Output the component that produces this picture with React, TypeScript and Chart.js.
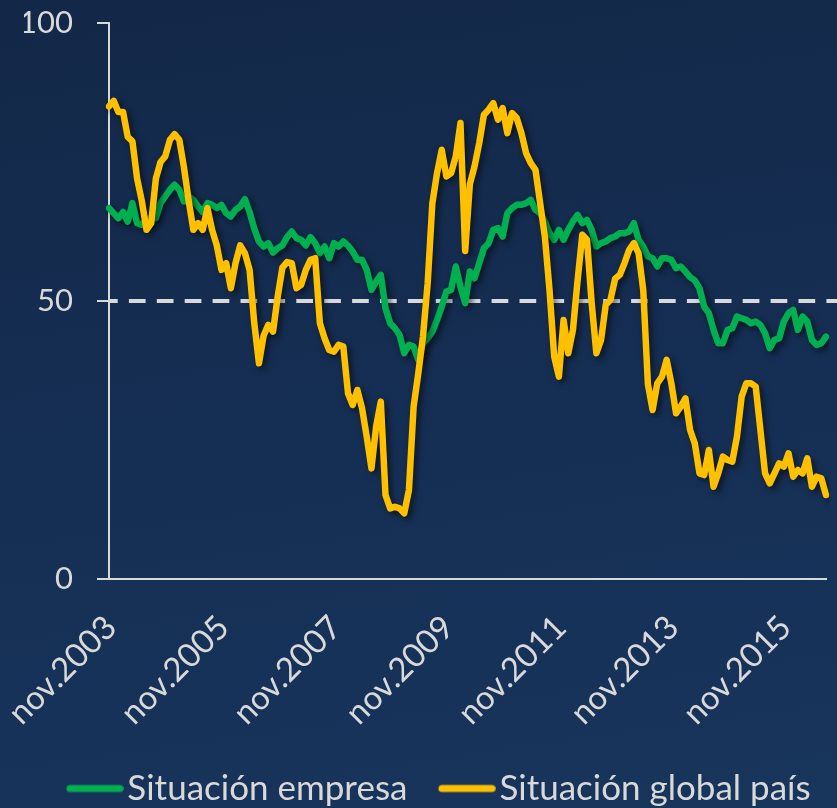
import React, { useEffect, useRef } from 'react';
import { Chart, registerables } from 'chart.js';

Chart.register(...registerables);

// ---------- data ----------
const CATEGORIES: string[] = [
  'nov.2003', 'dic.2003',
  'ene.2004', 'feb.2004', 'mar.2004', 'abr.2004', 'may.2004', 'jun.2004', 'jul.2004', 'ago.2004', 'sep.2004', 'oct.2004', 'nov.2004', 'dic.2004',
  'ene.2005', 'feb.2005', 'mar.2005', 'abr.2005', 'may.2005', 'jun.2005', 'jul.2005', 'ago.2005', 'sep.2005', 'oct.2005', 'nov.2005', 'dic.2005',
  'ene.2006', 'feb.2006', 'mar.2006', 'abr.2006', 'may.2006', 'jun.2006', 'jul.2006', 'ago.2006', 'sep.2006', 'oct.2006', 'nov.2006', 'dic.2006',
  'ene.2007', 'feb.2007', 'mar.2007', 'abr.2007', 'may.2007', 'jun.2007', 'jul.2007', 'ago.2007', 'sep.2007', 'oct.2007', 'nov.2007', 'dic.2007',
  'ene.2008', 'feb.2008', 'mar.2008', 'abr.2008', 'may.2008', 'jun.2008', 'jul.2008', 'ago.2008', 'sep.2008', 'oct.2008', 'nov.2008', 'dic.2008',
  'ene.2009', 'feb.2009', 'mar.2009', 'abr.2009', 'may.2009', 'jun.2009', 'jul.2009', 'ago.2009', 'sep.2009', 'oct.2009', 'nov.2009', 'dic.2009',
  'ene.2010', 'feb.2010', 'mar.2010', 'abr.2010', 'may.2010', 'jun.2010', 'jul.2010', 'ago.2010', 'sep.2010', 'oct.2010', 'nov.2010', 'dic.2010',
  'ene.2011', 'feb.2011', 'mar.2011', 'abr.2011', 'may.2011', 'jun.2011', 'jul.2011', 'ago.2011', 'sep.2011', 'oct.2011', 'nov.2011', 'dic.2011',
  'ene.2012', 'feb.2012', 'mar.2012', 'abr.2012', 'may.2012', 'jun.2012', 'jul.2012', 'ago.2012', 'sep.2012', 'oct.2012', 'nov.2012', 'dic.2012',
  'ene.2013', 'feb.2013', 'mar.2013', 'abr.2013', 'may.2013', 'jun.2013', 'jul.2013', 'ago.2013', 'sep.2013', 'oct.2013', 'nov.2013', 'dic.2013',
  'ene.2014', 'feb.2014', 'mar.2014', 'abr.2014', 'may.2014', 'jun.2014', 'jul.2014', 'ago.2014', 'sep.2014', 'oct.2014', 'nov.2014', 'dic.2014',
  'ene.2015', 'feb.2015', 'mar.2015', 'abr.2015', 'may.2015', 'jun.2015', 'jul.2015', 'ago.2015', 'sep.2015', 'oct.2015', 'nov.2015', 'dic.2015',
  'ene.2016', 'feb.2016', 'mar.2016', 'abr.2016', 'may.2016', 'jun.2016', 'jul.2016', 'ago.2016',
];

const TICK_LABELS = ['nov.2003', 'nov.2005', 'nov.2007', 'nov.2009', 'nov.2011', 'nov.2013', 'nov.2015'];

const Y_MIN = 0;
const Y_MAX = 100;
const Y_STEP = 50;
const REFERENCE_LEVEL = 50;

const SERIES_LABELS = ['Situación empresa', 'Situación global país'];

const EMPRESA = [
  66.7, 65.8, 64.9, 66.0, 64.3, 67.6, 64.0, 63.7, 64.6, 64.9,
  64.9, 67.6, 68.8, 70.0, 70.9, 70.0, 67.9, 68.8, 68.2, 67.0,
  66.0, 67.6, 67.3, 66.7, 67.3, 65.8, 65.2, 66.4, 67.0, 68.3,
  66.0, 63.0, 60.7, 59.8, 60.4, 58.7, 59.5, 60.0, 61.5, 62.5,
  61.3, 61.0, 60.0, 61.5, 60.4, 58.6, 59.8, 57.7, 60.4, 59.8,
  60.7, 60.0, 58.9, 57.4, 57.4, 55.6, 52.0, 53.5, 54.7, 48.7,
  46.0, 45.1, 43.9, 40.6, 42.1, 41.8, 39.4, 42.4, 43.3, 44.5,
  46.6, 49.0, 51.7, 52.0, 56.2, 52.6, 49.6, 55.3, 54.1, 56.8,
  59.5, 60.4, 62.8, 63.1, 61.6, 65.8, 66.7, 67.3, 67.3, 67.6,
  68.2, 66.4, 65.8, 64.3, 62.2, 61.0, 62.8, 61.0, 62.8, 64.3,
  65.5, 64.0, 64.6, 62.8, 59.8, 60.4, 60.7, 61.3, 61.6, 62.2,
  62.2, 62.5, 64.0, 61.0, 59.8, 58.0, 57.7, 56.2, 57.7, 57.7,
  57.4, 55.9, 56.2, 55.3, 54.3, 53.7, 52.3, 49.0, 47.8, 44.8,
  42.4, 42.4, 44.8, 45.1, 47.2, 46.9, 46.6, 46.0, 46.3, 45.7,
  44.2, 41.5, 43.0, 43.3, 46.3, 47.8, 48.4, 44.8, 47.2, 46.3,
  43.0, 42.1, 42.4, 43.6,
];

const PAIS = [
  85.0, 86.0, 84.0, 84.0, 79.5, 78.7, 72.0, 68.0, 62.8, 64.0,
  72.0, 75.0, 76.0, 79.0, 80.0, 79.0, 74.0, 68.0, 62.8, 64.0,
  62.8, 66.7, 62.8, 60.0, 55.6, 56.8, 52.3, 56.8, 60.0, 58.6,
  55.6, 46.0, 38.8, 43.8, 45.7, 44.5, 50.8, 56.0, 57.0, 56.8,
  52.3, 52.9, 55.6, 57.4, 57.7, 46.0, 43.3, 41.2, 40.9, 42.1,
  41.8, 33.4, 31.3, 34.0, 30.7, 25.6, 19.9, 27.4, 31.9, 15.1,
  12.7, 13.0, 12.7, 11.8, 16.0, 31.0, 37.0, 43.6, 53.2, 67.6,
  73.0, 77.2, 72.4, 73.0, 76.0, 82.0, 59.0, 71.0, 74.2, 78.4,
  83.5, 84.4, 85.6, 82.6, 84.7, 80.2, 83.8, 82.9, 80.2, 76.6,
  74.8, 73.6, 67.6, 61.6, 52.0, 40.0, 36.4, 46.6, 40.6, 44.8,
  53.8, 61.9, 61.0, 49.6, 40.6, 43.0, 49.3, 50.2, 54.0, 54.7,
  56.8, 59.2, 60.4, 58.6, 52.0, 35.0, 30.4, 35.2, 36.4, 39.4,
  35.2, 29.8, 31.0, 32.5, 26.8, 24.4, 19.0, 18.7, 23.2, 16.6,
  19.0, 22.0, 21.4, 21.1, 25.6, 32.8, 35.2, 35.2, 34.6, 26.8,
  19.0, 17.2, 19.0, 20.8, 20.2, 22.6, 18.4, 19.6, 19.0, 21.7,
  16.6, 18.4, 18.1, 15.1,
];

// ---------- styles ----------
const GREEN = '#00b050';
const GOLD = '#ffc000';
const TEXT = '#d9d9d9';
const FONT_FAMILY = "Lato, 'Open Sans', 'DejaVu Sans', sans-serif";

const LEGEND_FONT = 35;
const SWATCH_GAP = 27; // space before the swatch line (item spacing)
const SWATCH_LEN = 57;
const SWATCH_TEXT_GAP = 4;
const SWATCH_THICK = 7;
const BOX_W = SWATCH_GAP + SWATCH_LEN + SWATCH_TEXT_GAP - LEGEND_FONT / 2;

function makeSwatch(color: string): HTMLCanvasElement {
  const center = BOX_W / 2;
  const half = Math.max(center, SWATCH_GAP + SWATCH_LEN - center);
  const w = Math.ceil(half * 2);
  const c = document.createElement('canvas');
  c.width = w;
  c.height = 12;
  const g = c.getContext('2d')!;
  const off = w / 2 - center;
  g.strokeStyle = color;
  g.lineWidth = SWATCH_THICK;
  g.lineCap = 'round';
  g.beginPath();
  g.moveTo(off + SWATCH_GAP + SWATCH_THICK / 2, 6);
  g.lineTo(off + SWATCH_GAP + SWATCH_LEN - SWATCH_THICK / 2, 6);
  g.stroke();
  return c;
}

const thresholdLine = {
  id: 'thresholdLine',
  beforeDatasetsDraw(chart: any) {
    const { ctx, chartArea, scales } = chart;
    const y = scales.y.getPixelForValue(REFERENCE_LEVEL);
    ctx.save();
    ctx.strokeStyle = TEXT;
    ctx.lineWidth = 4;
    ctx.setLineDash([16.7, 11.2]);
    ctx.lineDashOffset = 8;
    ctx.beginPath();
    ctx.moveTo(chartArea.left, y);
    ctx.lineTo(chart.width, y);
    ctx.stroke();
    ctx.restore();
  },
};

const lineShadow = {
  id: 'lineShadow',
  beforeDatasetDraw(chart: any) {
    const ctx = chart.ctx;
    ctx.save();
    ctx.shadowColor = 'rgba(0,0,0,0.55)';
    ctx.shadowBlur = 6;
    ctx.shadowOffsetX = 3;
    ctx.shadowOffsetY = 3;
  },
  afterDatasetDraw(chart: any) {
    chart.ctx.restore();
  },
};

export default function App() {
  const canvasRef = useRef<HTMLCanvasElement>(null);

  useEffect(() => {
    document.body.style.margin = '0';
    const canvas = canvasRef.current;
    if (!canvas) return;

    const chart = new Chart(canvas, {
      type: 'line',
      data: {
        labels: CATEGORIES,
        datasets: [
          {
            label: SERIES_LABELS[0],
            data: EMPRESA,
            borderColor: GREEN,
            backgroundColor: GREEN,
            borderWidth: 6.5,
            pointRadius: 0,
            tension: 0,
            borderJoinStyle: 'round',
            borderCapStyle: 'round',
            fill: false,
            order: 1,
          },
          {
            label: SERIES_LABELS[1],
            data: PAIS,
            borderColor: GOLD,
            backgroundColor: GOLD,
            borderWidth: 6.5,
            pointRadius: 0,
            tension: 0,
            borderJoinStyle: 'round',
            borderCapStyle: 'round',
            fill: false,
            order: 0,
          },
        ],
      },
      options: {
        responsive: false,
        animation: false,
        events: [],
        layout: { padding: { left: 24, right: 11, top: 23, bottom: -8 } },
        plugins: {
          tooltip: { enabled: false },
          legend: {
            position: 'bottom',
            labels: {
              usePointStyle: true,
              pointStyleWidth: BOX_W,
              padding: 4,
              color: TEXT,
              font: { family: FONT_FAMILY, size: LEGEND_FONT },
              generateLabels: (ch: any) =>
                ch.data.datasets.map((ds: any, i: number) => ({
                  text: ds.label,
                  fillStyle: ds.borderColor,
                  strokeStyle: ds.borderColor,
                  lineWidth: 0,
                  pointStyle: makeSwatch(ds.borderColor),
                  hidden: false,
                  datasetIndex: i,
                  fontColor: TEXT,
                })),
            },
          },
        },
        scales: {
          x: {
            grid: { display: false, drawTicks: false },
            border: { display: true, color: TEXT, width: 2 },
            ticks: {
              autoSkip: false,
              minRotation: 45,
              maxRotation: 45,
              labelOffset: 2,
              padding: 29,
              color: TEXT,
              font: { family: FONT_FAMILY, size: 33 },
              callback: (_v: any, index: number) => {
                const l = CATEGORIES[index];
                return TICK_LABELS.includes(l) ? l : '';
              },
            },
            afterFit: (s: any) => {
              s.height = 188;
              s.paddingLeft = 0;
              s.paddingRight = 0;
            },
          },
          y: {
            min: Y_MIN,
            max: Y_MAX,
            ticks: {
              stepSize: Y_STEP,
              padding: 24,
              color: TEXT,
              font: { family: FONT_FAMILY, size: 31 },
            },
            grid: { drawOnChartArea: false, drawTicks: true, tickLength: 12, color: TEXT, lineWidth: 2 },
            border: { display: true, color: TEXT, width: 2 },
            afterFit: (s: any) => {
              s.width = 85;
              s.paddingTop = 0;
              s.paddingBottom = 0;
            },
          },
        },
      } as any,
      plugins: [thresholdLine, lineShadow],
    });

    return () => chart.destroy();
  }, []);

  return (
    <div
      style={{
        width: 837,
        height: 808,
        overflow: 'hidden',
        background: 'linear-gradient(172deg, #132848 0%, #152e53 50%, #18355c 100%)',
      }}
    >
      <canvas ref={canvasRef} width={837} height={808} style={{ display: 'block' }} />
    </div>
  );
}
